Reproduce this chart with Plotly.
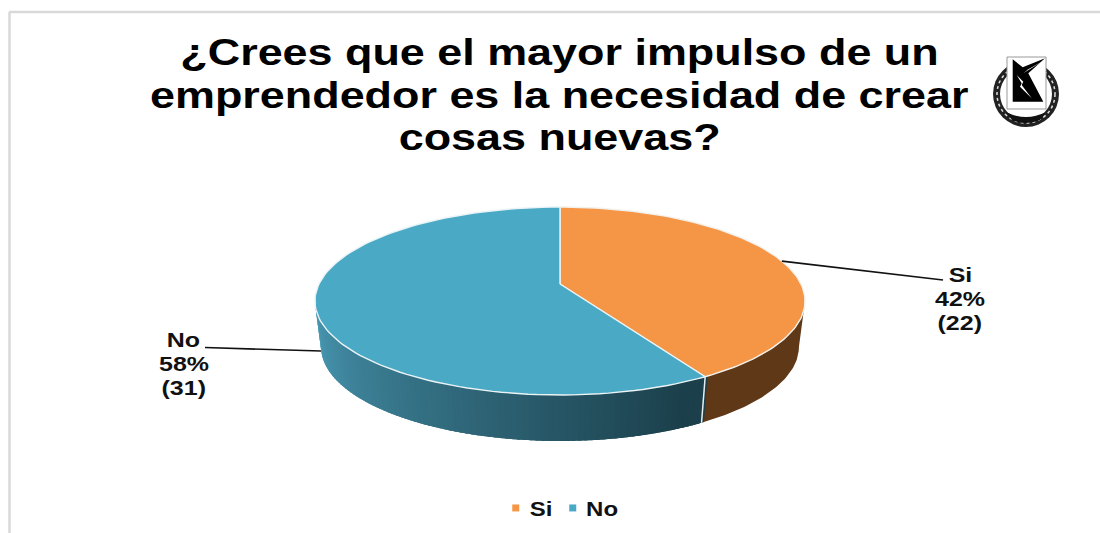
import math
import plotly.graph_objects as go

categories = ["Si", "No"]
counts = [22, 31]
percent_labels = ["42%", "58%"]
top_colors = ["#F59647", "#4AA9C5"]
side_color_si = "#5F3818"
title_lines = ["¿Crees que el mayor impulso de un",
               "emprendedor es la necesidad de crear",
               "cosas nuevas?"]

FONT = "Liberation Sans"
CX, CY, A, K, C = 560, 284, 90.9, 0.181, 241
DEPTH, SHRINK = 46, 0.975


def project(t, bottom=False):
    u, v = math.sin(t), -math.cos(t)
    d = 1 - K * v
    x, y = C * u / d, A * v / d
    if bottom:
        return CX + x * SHRINK, CY + y + DEPTH
    return CX + x, CY + y


def arc(t0, t1, n=120, bottom=False):
    pts = [project(t0 + (t1 - t0) * i / n, bottom) for i in range(n + 1)]
    return [p[0] for p in pts], [p[1] for p in pts]


total = sum(counts)
split = 2 * math.pi * counts[0] / total
t_right = math.acos(-K)
t_left = 2 * math.pi - t_right
fig = go.Figure()


def poly(xs, ys, fill, line=None, width=0.0):
    fig.add_trace(go.Scatter(x=xs, y=ys, mode="lines", fill="toself", fillcolor=fill,
                             line=dict(color=line or fill, width=width),
                             hoverinfo="skip", showlegend=False))


# side wall of "Si"
xt, yt = arc(t_right, split, 60)
xb, yb = arc(t_right, split, 60, True)
poly(xt + xb[::-1], yt + yb[::-1], side_color_si)

# side wall of "No", a horizontal gradient drawn as overlapping strips
c0, c1 = (74, 155, 182), (27, 63, 75)
N = 90
for i in range(N):
    f = i / (N - 1)
    col = "rgb(%d,%d,%d)" % tuple(round(c0[j] + (c1[j] - c0[j]) * min(1, f * 1.04)) for j in range(3))
    ti = t_left + (split - t_left) * i / N
    tj = split if i == N - 1 else t_left + (split - t_left) * (i + 2.5) / N
    xt, yt = arc(ti, tj, 6)
    xb, yb = arc(ti, tj, 6, True)
    poly(xt + xb[::-1], yt + yb[::-1], col)

# white edge between the walls
p0, p1 = project(split), project(split, True)
fig.add_trace(go.Scatter(x=[p0[0], p1[0]], y=[p0[1], p1[1]], mode="lines",
                         line=dict(color="#E8EEF0", width=1.5), hoverinfo="skip", showlegend=False))

# top faces
xa, ya = arc(0, split)
poly([CX] + xa + [CX], [CY] + ya + [CY], top_colors[0], "#F3F1EC", 1.4)
xa, ya = arc(split, 2 * math.pi)
poly([CX] + xa + [CX], [CY] + ya + [CY], top_colors[1], "#EAF3F5", 1.4)

# legend entries
for name, col in zip(categories, top_colors):
    fig.add_trace(go.Scatter(x=[None], y=[None], mode="markers", name=name,
                             marker=dict(symbol="square", size=7, color=col)))

# leader lines
sx, sy = project(split * 0.5)
fig.add_trace(go.Scatter(x=[sx, 943], y=[sy, 280], mode="lines",
                         line=dict(color="#111111", width=1.7), hoverinfo="skip", showlegend=False))
fig.add_trace(go.Scatter(x=[205, 321], y=[347.5, 351], mode="lines",
                         line=dict(color="#111111", width=1.7), hoverinfo="skip", showlegend=False))

ann = []
for line, y in zip(title_lines, [52.5, 95.5, 137.5]):
    ann.append(dict(x=559.5, y=y, text=line, showarrow=False, xref="x", yref="y",
                    font=dict(family=FONT, size=37, color="#000000", weight="bold")))
for cat, pct, n, x, y0 in [(categories[0], percent_labels[0], counts[0], 960, 275),
                           (categories[1], percent_labels[1], counts[1], 183.5, 340)]:
    for k, txt in enumerate([cat, pct, f"({n})"]):
        ann.append(dict(x=x, y=y0 + 24 * k, text=txt, showarrow=False, xref="x", yref="y",
                        font=dict(family=FONT, size=20, color="#111111", weight="bold")))


def zpath(points):
    return "M " + " L ".join(f"{960 + a / 3:.1f},{30 + b / 3:.1f}" for a, b in points) + " Z"


shapes = [
    dict(type="line", x0=9, x1=1100, y0=12, y1=12, line=dict(color="#D9D9D9", width=2.5), layer="below"),
    dict(type="line", x0=9.5, x1=9.5, y0=12, y1=533, line=dict(color="#D9D9D9", width=2.5), layer="below"),
    dict(type="circle", x0=993, x1=1059, y0=61, y1=127, fillcolor="#222222", line=dict(width=0)),
    dict(type="circle", x0=997, x1=1055, y0=65, y1=123, fillcolor="rgba(0,0,0,0)",
         line=dict(color="#DDDDDD", width=1.5, dash="dot")),
    dict(type="circle", x0=1000, x1=1052, y0=68, y1=120, fillcolor="#FFFFFF", line=dict(width=0)),
    dict(type="path", path="M 1006,112 Q 1026,122 1046,112 L 1040,120 Q 1026,126 1012,120 Z",
         fillcolor="#111111", line=dict(width=0)),
    dict(type="rect", x0=1007, x1=1046, y0=57, y1=109, fillcolor="#FFFFFF", line=dict(color="#999999", width=1)),
    dict(type="path", path=zpath([(158, 88), (188, 112), (255, 85), (205, 130), (250, 215), (158, 215)]),
         fillcolor="#000000", line=dict(width=0)),
    dict(type="path", path=zpath([(170, 135), (190, 155), (185, 165), (215, 205), (180, 170), (185, 160)]),
         fillcolor="#FFFFFF", line=dict(width=0)),
    dict(type="path", path=zpath([(190, 130), (250, 92), (205, 118)]), fillcolor="#FFFFFF", line=dict(width=0)),
]

fig.update_layout(
    width=1100, height=533, margin=dict(l=0, r=0, t=0, b=0), autosize=False,
    paper_bgcolor="#FFFFFF", plot_bgcolor="#FFFFFF",
    xaxis=dict(range=[0, 1100], visible=False, fixedrange=True),
    yaxis=dict(range=[533, 0], visible=False, fixedrange=True),
    annotations=ann, shapes=shapes,
    legend=dict(orientation="h", x=0.5025, xanchor="center", y=0.047, yanchor="middle",
                entrywidth=12, entrywidthmode="pixels",
                font=dict(family=FONT, size=20, color="#111111", weight="bold"), bgcolor="rgba(0,0,0,0)"),
)

POST = """
document.body.style.margin = '0';
document.querySelectorAll('.legend, .legend .scrollbox').forEach(function (el) {
  el.removeAttribute('clip-path');
  el.style.clipPath = 'none';
});
var anns = document.querySelectorAll('.annotation-text');
anns.forEach(function (el, i) {
  el.style.transformBox = 'fill-box';
  el.style.transformOrigin = 'center';
  el.style.transform = 'scaleX(' + (i < 3 ? 1.214 : 1.25) + ')';
});
document.querySelectorAll('.legendtext').forEach(function (el) {
  el.style.transformBox = 'fill-box';
  el.style.transformOrigin = 'center';
  el.style.transform = 'translateX(-4px) scaleX(1.2)';
});
"""
fig.write_html("out.html", post_script=POST, config={"displayModeBar": False})
